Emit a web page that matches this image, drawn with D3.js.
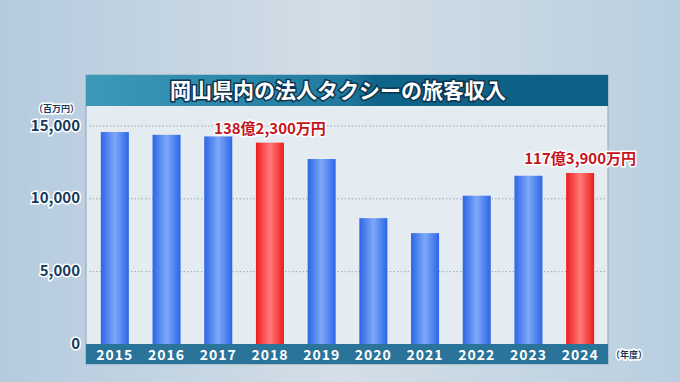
<!DOCTYPE html>
<html>
<head>
<meta charset="utf-8">
<script src="https://cdn.jsdelivr.net/npm/d3@7"></script>
<style>
  body { margin: 0; }
  svg { display: block; font-family: "Noto Sans CJK JP", "Noto Sans", sans-serif; }
  .tick-label { font-weight: 700; fill: #173a5c; stroke: #fff; stroke-width: 3px; paint-order: stroke; }
  .year { font-weight: 700; fill: #fff; letter-spacing: 1px; }
  .note { font-weight: 700; fill: #c4141c; stroke: #fff; stroke-width: 3px; paint-order: stroke; }
</style>
</head>
<body>
<div id="plot"></div>
<script>
// data (百万円)
var years = ["2015","2016","2017","2018","2019","2020","2021","2022","2023","2024"];
var revenue = [14550, 14360, 14250, 13823, 12700, 8640, 7610, 10180, 11550, 11739];
var highlight = ["2018", "2024"];
var yTicks = [0, 5000, 10000, 15000];
var notes = [
    {year: "2018", text: "138億2,300万円"},
    {year: "2024", text: "117億3,900万円"}
];
var title = "岡山県内の法人タクシーの旅客収入";

var width = 680,
    height = 382,
    panel = {left: 86, right: 608, top: 75, bottom: 364},
    plot = {top: 106, bottom: 344};

var svg = d3.select("#plot")
    .append("svg")
    .attr("width", width)
    .attr("height", height);

var defs = svg.append("defs");

function linGrad(id, x2, y2, stops) {
    var g = defs.append("linearGradient")
        .attr("id", id)
        .attr("x1", 0).attr("y1", 0)
        .attr("x2", x2).attr("y2", y2);
    stops.forEach(function(s){
        g.append("stop").attr("offset", s[0]).attr("stop-color", s[1]);
    });
}

linGrad("bg", 1, 0, [[0,"#b4cbdf"],[0.5,"#d4dee6"],[1,"#b9cfe0"]]);
linGrad("titleBar", 1, 0, [[0,"#3c9ab8"],[0.5,"#1f7a9e"],[0.55,"#0f6489"],[1,"#0c5f86"]]);
linGrad("blueBar", 1, 0, [[0,"#2c66e6"],[0.5,"#7ea8f7"],[1,"#2c66e6"]]);
linGrad("redBar", 1, 0, [[0,"#ee1c1c"],[0.5,"#ff7b7b"],[1,"#ee1c1c"]]);

// background
svg.append("rect")
    .attr("width", width)
    .attr("height", height)
    .attr("fill", "url(#bg)");

// panel
svg.append("rect")
    .attr("x", panel.left)
    .attr("y", panel.top)
    .attr("width", panel.right - panel.left)
    .attr("height", panel.bottom - panel.top)
    .attr("fill", "#e5ecf1")
    .attr("stroke", "#8aa6bd")
    .attr("stroke-width", 1);

// title bar
svg.append("rect")
    .attr("x", panel.left)
    .attr("y", panel.top)
    .attr("width", panel.right - panel.left)
    .attr("height", plot.top - panel.top)
    .attr("fill", "url(#titleBar)");

svg.append("text")
    .attr("x", 338)
    .attr("y", 98)
    .attr("text-anchor", "middle")
    .attr("font-size", 21)
    .attr("font-weight", 700)
    .attr("fill", "#fff")
    .attr("stroke", "#0b3550")
    .attr("stroke-width", 3)
    .attr("paint-order", "stroke")
    .text(title);

// scales
var xScale = d3.scaleBand()
    .domain(years)
    .range([89, 606])
    .paddingInner(0.458)
    .paddingOuter(0.229);

var yScale = d3.scaleLinear()
    .domain([0, 15000])
    .range([plot.bottom, 125.5]);

// grid
var yAxis = d3.axisLeft(yScale)
    .tickValues(yTicks)
    .tickSizeInner(-(panel.right - panel.left - 6))
    .tickSizeOuter(0)
    .tickFormat("");

var grid = svg.append("g")
    .attr("transform", `translate(${panel.left + 3},0)`)
    .call(yAxis);
grid.select(".domain").remove();
grid.selectAll(".tick line")
    .attr("stroke", "#9aa7b2")
    .attr("stroke-dasharray", "1.5,2");

// y tick labels
svg.selectAll(".tick-label")
    .data(yTicks)
    .enter().append("text")
    .attr("class", "tick-label")
    .attr("x", 80)
    .attr("y", function(d){ return yScale(d) + 5; })
    .attr("text-anchor", "end")
    .attr("font-size", 15)
    .text(function(d){ return d3.format(",")(d); });

svg.append("text")
    .attr("class", "tick-label")
    .attr("x", 79)
    .attr("y", 112)
    .attr("text-anchor", "end")
    .attr("font-size", 9)
    .text("（百万円）");

// bars
svg.selectAll(".bar")
    .data(revenue)
    .enter().append("rect")
    .attr("class", "bar")
    .attr("x", function(d,i){ return xScale(years[i]); })
    .attr("width", xScale.bandwidth())
    .attr("y", function(d){ return yScale(d); })
    .attr("height", function(d){ return yScale(0) - yScale(d); })
    .attr("fill", function(d,i){
        return highlight.indexOf(years[i]) >= 0 ? "url(#redBar)" : "url(#blueBar)";
    });

// x axis bar
svg.append("rect")
    .attr("x", panel.left)
    .attr("y", plot.bottom)
    .attr("width", panel.right - panel.left)
    .attr("height", panel.bottom - plot.bottom)
    .attr("fill", "#2a7399");

svg.selectAll(".year")
    .data(years)
    .enter().append("text")
    .attr("class", "year")
    .attr("x", function(d){ return xScale(d) + xScale.bandwidth() / 2; })
    .attr("y", 360)
    .attr("text-anchor", "middle")
    .attr("font-size", 14)
    .text(function(d){ return d; });

svg.append("text")
    .attr("class", "tick-label")
    .attr("x", 611)
    .attr("y", 358)
    .attr("font-size", 9)
    .text("（年度）");

// value notes
svg.selectAll(".note")
    .data(notes)
    .enter().append("text")
    .attr("class", "note")
    .attr("x", function(d){ return xScale(d.year) + xScale.bandwidth() / 2; })
    .attr("y", function(d){ return yScale(revenue[years.indexOf(d.year)]) - 9; })
    .attr("text-anchor", "middle")
    .attr("font-size", 15)
    .text(function(d){ return d.text; });
</script>
</body>
</html>
